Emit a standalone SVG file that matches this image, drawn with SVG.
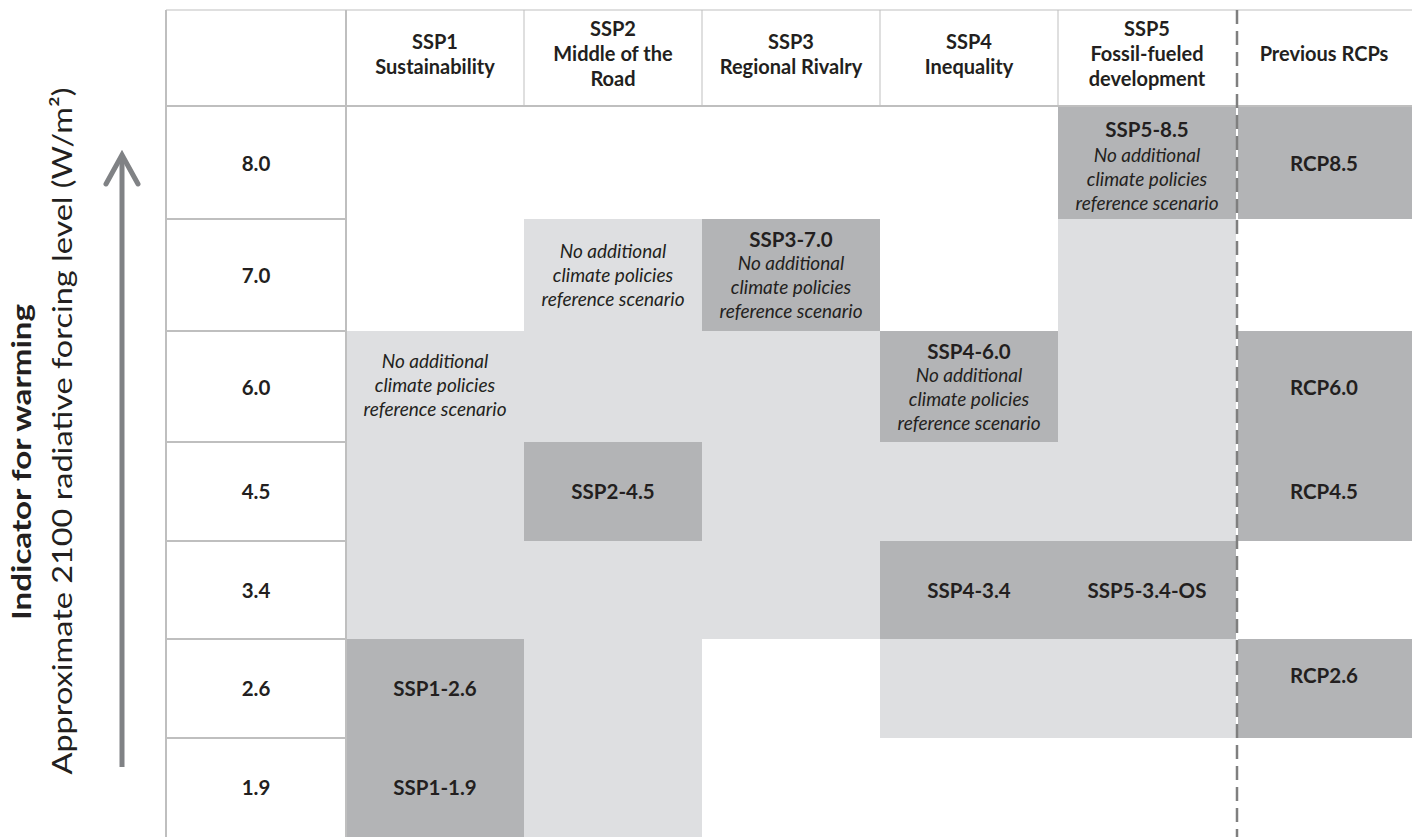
<svg xmlns="http://www.w3.org/2000/svg" width="1412" height="837" viewBox="0 0 1412 837">
<style>
text{font-family:Lato,"Open Sans","Liberation Sans",sans-serif;fill:#231f20;text-anchor:middle}
.h{font-weight:bold;font-size:20px}
.b{font-weight:bold;font-size:20.5px}
.i{font-style:italic;font-size:19px}
.dark{fill:#b3b4b6}
.light{fill:#dedfe1}
.grid{stroke:#bfbfbf;stroke-width:2;fill:none}
.thin{stroke:#bfbfbf;stroke-width:1;fill:none}
</style>
<rect width="1412" height="837" fill="#ffffff"/>

<g id="cells-light">
<rect class="light" x="347" y="331" width="177" height="308"/>
<rect class="light" x="524" y="219" width="178" height="223"/>
<rect class="light" x="524" y="541" width="178" height="296"/>
<rect class="light" x="702" y="331" width="178" height="308"/>
<rect class="light" x="880" y="442" width="178" height="99"/>
<rect class="light" x="880" y="639" width="178" height="99"/>
<rect class="light" x="1058" y="219" width="178" height="322"/>
<rect class="light" x="1058" y="639" width="178" height="99"/>
</g>

<g id="grid">
<line class="thin" x1="166" y1="10" x2="1412" y2="10"/>
<line class="grid" x1="166" y1="106" x2="1412" y2="106"/>
<line class="grid" x1="166" y1="10" x2="166" y2="837"/>
<line class="grid" x1="346" y1="10" x2="346" y2="837"/>
<line class="thin" x1="524" y1="10" x2="524" y2="106"/>
<line class="thin" x1="702" y1="10" x2="702" y2="106"/>
<line class="thin" x1="880" y1="10" x2="880" y2="106"/>
<line class="thin" x1="1058" y1="10" x2="1058" y2="106"/>
<line class="grid" x1="166" y1="219" x2="346" y2="219"/>
<line class="grid" x1="166" y1="331" x2="346" y2="331"/>
<line class="grid" x1="166" y1="442" x2="346" y2="442"/>
<line class="grid" x1="166" y1="541" x2="346" y2="541"/>
<line class="grid" x1="166" y1="639" x2="346" y2="639"/>
<line class="grid" x1="166" y1="738" x2="346" y2="738"/>
</g>

<g id="header">
<text class="h"><tspan x="435" y="49">SSP1</tspan><tspan x="435" y="74">Sustainability</tspan></text>
<text class="h"><tspan x="613" y="36">SSP2</tspan><tspan x="613" y="61">Middle of the</tspan><tspan x="613" y="86">Road</tspan></text>
<text class="h"><tspan x="791" y="49">SSP3</tspan><tspan x="791" y="74">Regional Rivalry</tspan></text>
<text class="h"><tspan x="969" y="49">SSP4</tspan><tspan x="969" y="74">Inequality</tspan></text>
<text class="h"><tspan x="1147" y="36">SSP5</tspan><tspan x="1147" y="61">Fossil-fueled</tspan><tspan x="1147" y="86">development</tspan></text>
<text class="h" x="1324" y="61">Previous RCPs</text>
</g>

<g id="rows">
<text class="b" x="256" y="171">8.0</text>
<text class="b" x="256" y="283">7.0</text>
<text class="b" x="256" y="395">6.0</text>
<text class="b" x="256" y="499">4.5</text>
<text class="b" x="256" y="598">3.4</text>
<text class="b" x="256" y="696">2.6</text>
<text class="b" x="256" y="795">1.9</text>
</g>

<g id="ssp1-ref">
<text class="i"><tspan x="435" y="368">No additional</tspan><tspan x="435" y="392">climate policies</tspan><tspan x="435" y="416">reference scenario</tspan></text>
</g>
<g id="ssp2-ref">
<text class="i"><tspan x="613" y="258">No additional</tspan><tspan x="613" y="282">climate policies</tspan><tspan x="613" y="306">reference scenario</tspan></text>
</g>

<g id="ssp5-85">
<rect class="dark" x="1058" y="107" width="178" height="112"/>
<text class="b" x="1147" y="137">SSP5-8.5</text>
<text class="i"><tspan x="1147" y="162">No additional</tspan><tspan x="1147" y="186">climate policies</tspan><tspan x="1147" y="210">reference scenario</tspan></text>
</g>
<g id="rcp85">
<rect class="dark" x="1238" y="107" width="174" height="112"/>
<text class="b" x="1324" y="171">RCP8.5</text>
</g>
<g id="ssp3-70">
<rect class="dark" x="702" y="219" width="178" height="112"/>
<text class="b" x="791" y="247">SSP3-7.0</text>
<text class="i"><tspan x="791" y="270">No additional</tspan><tspan x="791" y="294">climate policies</tspan><tspan x="791" y="318">reference scenario</tspan></text>
</g>
<g id="ssp4-60">
<rect class="dark" x="880" y="331" width="178" height="111"/>
<text class="b" x="969" y="359">SSP4-6.0</text>
<text class="i"><tspan x="969" y="382">No additional</tspan><tspan x="969" y="406">climate policies</tspan><tspan x="969" y="430">reference scenario</tspan></text>
</g>
<g id="rcp60">
<rect class="dark" x="1238" y="331" width="174" height="111"/>
<text class="b" x="1324" y="395">RCP6.0</text>
</g>
<g id="ssp2-45">
<rect class="dark" x="524" y="442" width="178" height="99"/>
<text class="b" x="613" y="499">SSP2-4.5</text>
</g>
<g id="rcp45">
<rect class="dark" x="1238" y="442" width="174" height="99"/>
<text class="b" x="1324" y="499">RCP4.5</text>
</g>
<g id="ssp4-34">
<rect class="dark" x="880" y="541" width="178" height="98"/>
<text class="b" x="969" y="598">SSP4-3.4</text>
</g>
<g id="ssp5-34-os">
<rect class="dark" x="1058" y="541" width="178" height="98"/>
<text class="b" x="1147" y="598">SSP5-3.4-OS</text>
</g>
<g id="rcp26">
<rect class="dark" x="1238" y="639" width="174" height="99"/>
<text class="b" x="1324" y="683">RCP2.6</text>
</g>
<g id="ssp1-26">
<rect class="dark" x="347" y="639" width="177" height="99"/>
<text class="b" x="435" y="696">SSP1-2.6</text>
</g>
<g id="ssp1-19">
<rect class="dark" x="347" y="738" width="177" height="99"/>
<text class="b" x="435" y="795">SSP1-1.9</text>
</g>

<g id="divider">
<line x1="1237" y1="10" x2="1237" y2="837" stroke="#7f7f7f" stroke-width="2.5" stroke-dasharray="14,7"/>
</g>

<g id="axis">
<line x1="122" y1="767" x2="122" y2="156" stroke="#808285" stroke-width="5"/>
<polyline points="106,184 122,155 138,184" fill="none" stroke="#808285" stroke-width="5" stroke-linecap="round" stroke-linejoin="miter"/>
<text transform="translate(31,462) rotate(-90)" style="font-weight:bold;font-size:27px" textLength="316" lengthAdjust="spacingAndGlyphs">Indicator for warming</text>
<text transform="translate(72,431) rotate(-90)" style="font-size:27px" textLength="687" lengthAdjust="spacingAndGlyphs">Approximate 2100 radiative forcing level (W/m²)</text>
</g>
</svg>
